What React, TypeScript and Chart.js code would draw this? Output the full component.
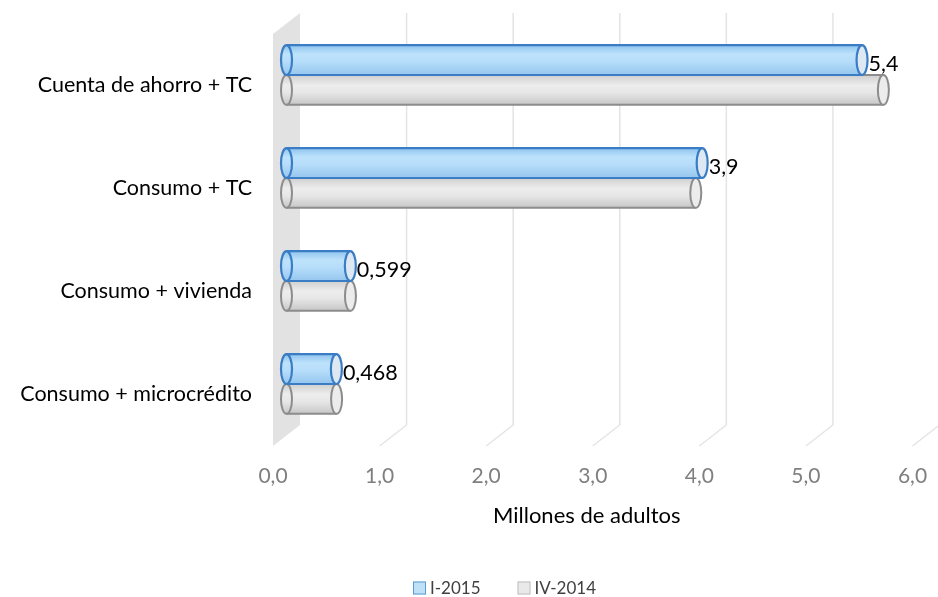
import React, { useEffect, useRef } from 'react';
import { Chart, registerables } from 'chart.js';

Chart.register(...registerables);

const categories = ['Cuenta de ahorro + TC', 'Consumo + TC', 'Consumo + vivienda', 'Consumo + microcrédito'];
const seriesNames = ['I-2015', 'IV-2014'];
const valuesI2015 = [5.4, 3.9, 0.599, 0.468];
const valuesIV2014 = [5.6, 3.84, 0.6, 0.47];
const xTicks = [0, 1, 2, 3, 4, 5, 6];
const axisTitle = 'Millones de adultos';

const FONT = 'Lato, "Open Sans", sans-serif';
const DX = 13.5;
const DY = 10.5;
const RX = 5.5;
const LEGEND_CENTER_X = 504.5;

const barStyles = [
  {
    stops: [[0, '#8fc4ee'], [0.3, '#bde2fb'], [0.55, '#b6ddfa'], [1, '#95c6ee']] as [number, string][],
    border: '#3b7dc4',
    cap: '#dde8f3',
    bw: 2.2,
    legendFill: '#bfe1f8',
    legendBorder: '#5b9bd5',
  },
  {
    stops: [[0, '#cfcfcf'], [0.35, '#ededed'], [0.6, '#e6e6e6'], [1, '#c6c6c6']] as [number, string][],
    border: '#8c8c8c',
    cap: '#ececec',
    bw: 2,
    legendFill: '#e9e9e9',
    legendBorder: '#bfbfbf',
  },
];

const fmt = (v: number) => String(v).replace('.', ',');

const depthPlugin = {
  id: 'depth3d',
  beforeDatasetsDraw(chart: any) {
    const { ctx, chartArea, scales } = chart;
    const { top, bottom } = chartArea;
    const x = scales.x;
    ctx.save();
    const x0 = x.getPixelForValue(0);
    ctx.fillStyle = '#e2e2e2';
    ctx.beginPath();
    ctx.moveTo(x0 + DX, top - DY);
    ctx.lineTo(x0 + DX, bottom - DY);
    ctx.lineTo(x0 - DX, bottom + DY);
    ctx.lineTo(x0 - DX, top + DY);
    ctx.closePath();
    ctx.fill();
    ctx.strokeStyle = '#e4e4e4';
    ctx.lineWidth = 1.5;
    xTicks.forEach((v) => {
      if (v === xTicks[0]) return;
      const px = x.getPixelForValue(v);
      ctx.beginPath();
      ctx.moveTo(px + DX, top - DY);
      ctx.lineTo(px + DX, bottom - DY);
      ctx.lineTo(px - DX, bottom + DY);
      ctx.stroke();
    });
    ctx.restore();
  },
  afterDatasetDraw(chart: any, args: any) {
    const { ctx } = chart;
    const idx = args.index;
    const meta = args.meta;
    const st = barStyles[idx];
    const values = idx === 0 ? valuesI2015 : valuesIV2014;
    ctx.save();
    meta.data.forEach((el: any, i: number) => {
      const { x, y, base, height } = el.getProps(['x', 'y', 'base', 'height'], true);
      const h = Math.abs(height);
      const t = y - h / 2;
      const b = y + h / 2;
      const g = ctx.createLinearGradient(0, t, 0, b);
      st.stops.forEach(([o, c]) => g.addColorStop(o, c));
      ctx.fillStyle = g;
      ctx.fillRect(base, t, x - base, h);
      ctx.strokeStyle = st.border;
      ctx.lineWidth = st.bw;
      ctx.beginPath();
      ctx.ellipse(base, y, RX, h / 2, 0, 0, Math.PI * 2);
      ctx.fillStyle = g;
      ctx.fill();
      ctx.stroke();
      ctx.beginPath();
      ctx.moveTo(base, t);
      ctx.lineTo(x, t);
      ctx.moveTo(base, b);
      ctx.lineTo(x, b);
      ctx.stroke();
      ctx.beginPath();
      ctx.ellipse(x, y, RX, h / 2, 0, 0, Math.PI * 2);
      ctx.fillStyle = st.cap;
      ctx.fill();
      ctx.stroke();
      if (idx === 0) {
        ctx.fillStyle = '#000000';
        ctx.font = `21.5px ${FONT}`;
        ctx.textAlign = 'left';
        ctx.textBaseline = 'middle';
        ctx.fillText(fmt(values[i]), x + RX + 1, y + 4);
      }
    });
    ctx.restore();
  },
  afterDraw(chart: any) {
    const { ctx, chartArea, scales } = chart;
    const x = scales.x;
    ctx.save();
    // axis title, centred on the front plane of the 3-D floor
    const frontCenter = (x.getPixelForValue(xTicks[0]) + x.getPixelForValue(xTicks[xTicks.length - 1])) / 2 - DX;
    ctx.fillStyle = '#000000';
    ctx.font = `22px ${FONT}`;
    ctx.textAlign = 'center';
    ctx.textBaseline = 'middle';
    ctx.fillText(axisTitle, frontCenter - 6, chartArea.bottom + 80.5);
    // legend
    const legendY = chartArea.bottom + 152.5;
    const box = 13;
    const gap = 4;
    const itemGap = 37;
    ctx.font = `17px ${FONT}`;
    const widths = seriesNames.map((s) => box + gap + ctx.measureText(s).width);
    const total = widths.reduce((a, b) => a + b, 0) + itemGap * (widths.length - 1);
    let cx = LEGEND_CENTER_X - total / 2;
    seriesNames.forEach((s, i) => {
      const st = barStyles[i];
      ctx.fillStyle = st.legendFill;
      ctx.fillRect(cx, legendY - box / 2, box, box);
      ctx.strokeStyle = st.legendBorder;
      ctx.lineWidth = 1;
      ctx.strokeRect(cx + 0.5, legendY - box / 2 + 0.5, box - 1, box - 1);
      ctx.fillStyle = '#404040';
      ctx.textAlign = 'left';
      ctx.textBaseline = 'middle';
      ctx.fillText(s, cx + box + gap, legendY + 1);
      cx += widths[i] + itemGap;
    });
    ctx.restore();
  },
};

export default function App() {
  const ref = useRef<HTMLCanvasElement | null>(null);
  useEffect(() => {
    document.body.style.margin = '0';
    const canvas = ref.current;
    if (!canvas) return;
    const chart = new Chart(canvas, {
      type: 'bar',
      data: {
        labels: categories,
        datasets: [
          {
            label: seriesNames[0],
            data: valuesI2015,
            backgroundColor: '#bfe1f8',
            borderWidth: 0,
            categoryPercentage: 0.58,
            barPercentage: 1,
          },
          {
            label: seriesNames[1],
            data: valuesIV2014,
            backgroundColor: '#e9e9e9',
            borderWidth: 0,
            categoryPercentage: 0.58,
            barPercentage: 1,
          },
        ],
      },
      options: {
        indexAxis: 'y',
        responsive: false,
        animation: false,
        layout: { padding: { left: 0, right: 12, top: 23.5, bottom: 0 } },
        scales: {
          x: {
            type: 'linear',
            min: 0,
            max: 6,
            afterBuildTicks: (scale: any) => {
              scale.ticks = xTicks.map((v) => ({ value: v }));
            },
            afterFit: (scale: any) => {
              scale.height = 161.5;
              scale.paddingLeft = 0;
              scale.paddingRight = 0;
            },
            grid: { display: false, drawTicks: false },
            border: { display: false },
            ticks: {
              color: '#7f7f7f',
              font: { family: FONT, size: 21 },
              padding: 28,
              labelOffset: -DX,
              callback: (v: any) => Number(v).toFixed(1).replace('.', ','),
            },
            title: { display: false },
          },
          y: {
            grid: { display: false, drawTicks: false },
            border: { display: false },
            afterFit: (scale: any) => {
              scale.width = 286.5;
              scale.paddingTop = 0;
              scale.paddingBottom = 0;
            },
            ticks: {
              color: '#000000',
              font: { family: FONT, size: 21.5 },
              padding: 34.5,
              labelOffset: DY,
            },
          },
        },
        plugins: {
          legend: { display: false },
          tooltip: { enabled: false },
        },
      },
      plugins: [depthPlugin],
    });
    return () => chart.destroy();
  }, []);
  return (
    <div style={{ width: 938, height: 597, background: '#ffffff' }}>
      <canvas ref={ref} width={938} height={597} style={{ display: 'block' }} />
    </div>
  );
}
